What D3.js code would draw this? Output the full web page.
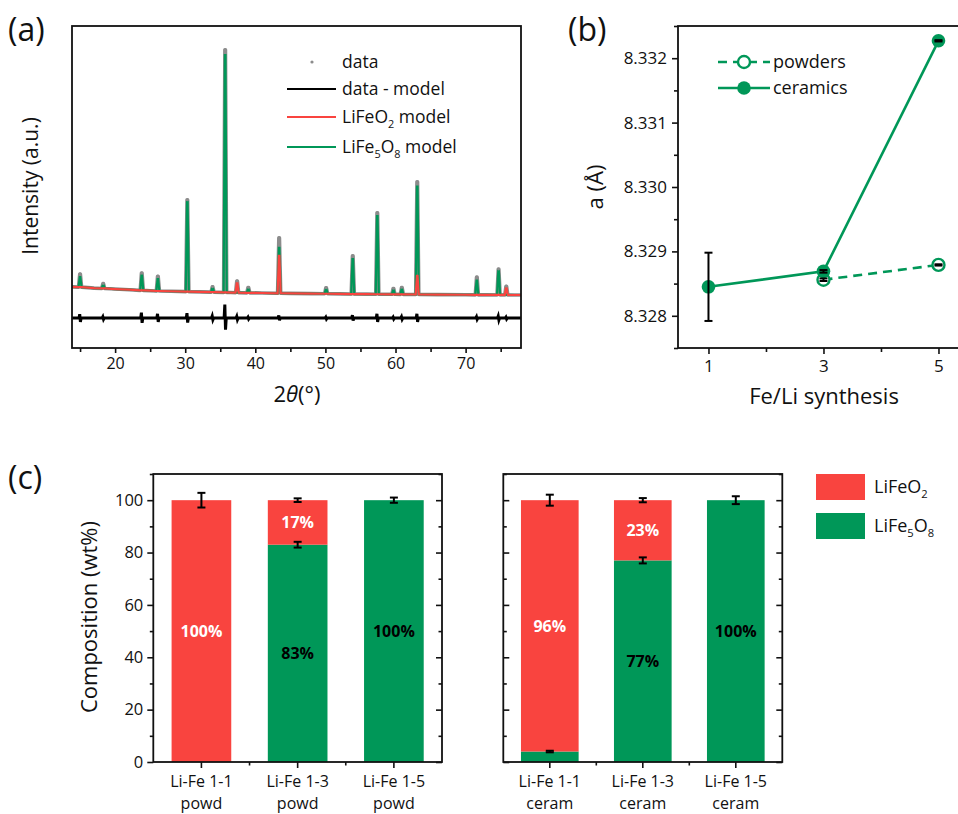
<!DOCTYPE html>
<html><head><meta charset="utf-8">
<script src="https://cdn.jsdelivr.net/npm/d3@7"></script>
<style>
body{margin:0;background:#fff;}
svg text{font-family:"Open Sans",sans-serif;fill:#111;}
</style></head><body>
<svg id="chart" width="958" height="814"></svg>
<script>
// ================= DATA =================
// (a) XRD pattern, 2theta in degrees, intensity in a.u.
const xrdMajorTicks = [20, 30, 40, 50, 60, 70];
const xrdMinorTicks = [15, 25, 35, 45, 55, 65, 75];
const peakPos   = [15.0, 18.3, 23.8, 26.1, 30.3, 33.9, 35.7, 37.4, 39.0, 43.4, 50.1, 53.9, 57.4, 59.7, 60.9, 63.1, 71.6, 74.7, 75.8];
const peakBase  = [1890, 1850, 1790, 1770, 1750, 1735, 1725, 1718, 1712, 1700, 1685, 1676, 1670, 1667, 1664, 1661, 1651, 1648, 1647];
const greenTop  = [2205, 1960, 2250, 2140, 4540, 1860, 9100, 1718, 1830, 3110, 1830, 2760, 4100, 1800, 1830, 5010, 2090, 2400, 1647];
const redTop    = [1890, 1850, 1790, 1770, 1750, 1735, 1725, 2020, 1712, 2860, 1685, 1676, 1670, 1667, 1664, 2240, 1651, 1648, 1870];
const dataTop   = [2300, 2000, 2330, 2230, 4600, 1900, 9260, 2080, 1880, 3420, 1870, 2860, 4200, 1850, 1880, 5160, 2200, 2450, 1920];
const residUp   = [120, 40, 170, 130, 150, 60, 420, 50, 30, 80, 30, 90, 130, 30, 40, 130, 40, 60, 30];
const residDown = [-120, -40, -150, -120, -140, -50, -360, -50, -30, -70, -30, -80, -120, -30, -40, -120, -40, -60, -30];
const baseX = [13.8, 17, 20, 22, 25, 28, 32, 36.5, 41, 45, 48, 52, 56, 66, 70, 73, 77, 78.2];
const baseI = [1900, 1860, 1830, 1810, 1780, 1762, 1742, 1722, 1708, 1697, 1690, 1681, 1673, 1657, 1653, 1649, 1646, 1645];
const residOffset = 930;
const xrdLegend = ["data", "data - model", "LiFeO2 model", "LiFe5O8 model"];

// (b) lattice parameter
const synthTicks = [1, 3, 5];
const synthMinor = [2, 4];
const latticeTicks = [8.328, 8.329, 8.330, 8.331, 8.332];
const latticeMinor = [8.3275, 8.3285, 8.3295, 8.3305, 8.3315, 8.3325];
const ceramX = [1, 3, 5];
const ceramA = [8.32845, 8.32869, 8.33227];
const ceramErr = [0.00053, 0.00002, 0.00001];
const powdX = [3, 5];
const powdA = [8.32856, 8.32879];
const powdErr = [0.00002, 0.00001];

// (c) composition
const compCats = ["Li-Fe 1-1", "Li-Fe 1-3", "Li-Fe 1-5"];
const compTicks = [0, 20, 40, 60, 80, 100];
const compMinor = [10, 30, 50, 70, 90, 110];
const powdLiFe5O8 = [0, 83, 100];
const powdLiFeO2  = [100, 17, 0];
const powdTopErr  = [2.8, 0.7, 1.0];
const powdMidErr  = [0, 1.1, 0];
const ceramLiFe5O8 = [4, 77, 100];
const ceramLiFeO2  = [96, 23, 0];
const ceramTopErr  = [2.1, 0.8, 1.5];
const ceramMidErr  = [0.3, 1.15, 0];

// ================= STYLE =================
const RED = "#F9443F", GREEN = "#009758", GRAY = "#8c8c8c";
const svg = d3.select("#chart");

function addSubText(g, x, y, parts, size, anchor) {
  const t = g.append("text").attr("x", x).attr("y", y).attr("font-size", size)
    .attr("text-anchor", anchor || "start");
  let shifted = false;
  parts.forEach(p => {
    const ts = t.append("tspan").text(p.t);
    if (p.sub) {
      ts.attr("font-size", size * 0.62).attr("dy", size * 0.28);
      shifted = true;
    } else if (shifted) {
      ts.attr("dy", -size * 0.28);
      shifted = false;
    }
  });
  return t;
}
function formulaParts(s) {
  const out = [];
  s.replace(/(\d+)|([^\d]+)/g, (m, d, o) => { out.push(d ? {t: d, sub: true} : {t: o}); });
  return out;
}
function styleAxis(g, fs) {
  g.select(".domain").remove();
  g.selectAll(".tick line").attr("stroke", "#111").attr("stroke-width", 1.6);
  g.selectAll(".tick text").attr("font-size", fs).attr("fill", "#111");
}

// ================= PANEL (a) =================
const aL = 72, aR = 521, aT = 26, aB = 348;
const xA = d3.scaleLinear().domain([13.85, 77.9]).range([aL, aR]);
const yA = d3.scaleLinear().domain([0, 10000]).range([aB, aT]);

function buildCurve(tops) {
  const pts = baseX.map((x, i) => [x, baseI[i]]);
  peakPos.forEach((p, i) => {
    pts.push([p - 0.22, peakBase[i]], [p - 0.04, tops[i]], [p + 0.04, tops[i]], [p + 0.22, peakBase[i]]);
  });
  return pts.sort((a, b) => a[0] - b[0]);
}
function buildResid() {
  const pts = baseX.map(x => [x, residOffset]);
  peakPos.forEach((p, i) => {
    pts.push([p - 0.15, residOffset], [p - 0.05, residOffset + residUp[i]],
             [p + 0.05, residOffset + residDown[i]], [p + 0.15, residOffset]);
  });
  return pts.sort((a, b) => a[0] - b[0]);
}
const lineA = d3.line().x(d => xA(d[0])).y(d => yA(d[1]));
svg.append("clipPath").attr("id", "clipA").append("rect")
  .attr("x", aL).attr("y", aT).attr("width", aR - aL).attr("height", aB - aT);
const gA = svg.append("g").attr("clip-path", "url(#clipA)");
gA.append("path").attr("d", lineA(buildCurve(dataTop))).attr("fill", "none")
  .attr("stroke", GRAY).attr("stroke-width", 3.6).attr("stroke-linejoin", "round");
gA.append("path").attr("d", lineA(buildResid())).attr("fill", "none")
  .attr("stroke", "#000").attr("stroke-width", 3);
gA.append("path").attr("d", lineA(buildCurve(greenTop))).attr("fill", "none")
  .attr("stroke", GREEN).attr("stroke-width", 2.2);
gA.append("path").attr("d", lineA(buildCurve(redTop))).attr("fill", "none")
  .attr("stroke", RED).attr("stroke-width", 2.2);
peakPos.forEach((p, i) => {
  gA.append("circle").attr("cx", xA(p)).attr("cy", yA(dataTop[i])).attr("r", 1.4).attr("fill", GRAY);
});

svg.append("rect").attr("x", aL).attr("y", aT).attr("width", aR - aL).attr("height", aB - aT)
  .attr("fill", "none").attr("stroke", "#111").attr("stroke-width", 1.8);
const axA = svg.append("g").attr("transform", `translate(0,${aB})`)
  .call(d3.axisBottom(xA).tickValues(xrdMajorTicks).tickSize(5).tickPadding(5).tickSizeOuter(0));
styleAxis(axA, 16);
const axAm = svg.append("g").attr("transform", `translate(0,${aB})`)
  .call(d3.axisBottom(xA).tickValues(xrdMinorTicks).tickSize(4).tickFormat("").tickSizeOuter(0));
styleAxis(axAm, 16);

const tA = svg.append("text").attr("x", 297).attr("y", 402).attr("font-size", 22).attr("text-anchor", "middle");
tA.append("tspan").text("2");
tA.append("tspan").attr("font-style", "italic").text("\u03B8");
tA.append("tspan").text("(\u00B0)");
svg.append("text").attr("transform", "translate(38,186) rotate(-90)").attr("text-anchor", "middle")
  .attr("font-size", 21).text("Intensity (a.u.)");
svg.append("text").attr("x", 8).attr("y", 41).attr("font-size", 32).text("(a)");

// legend (a)
const legA = svg.append("g");
const legAy = [62, 89, 117, 147];
legA.append("circle").attr("cx", 312).attr("cy", legAy[0]).attr("r", 1.6).attr("fill", GRAY);
[["#000", 1], [RED, 2], [GREEN, 3]].forEach(([c, i]) => {
  legA.append("line").attr("x1", 287).attr("x2", 336).attr("y1", legAy[i]).attr("y2", legAy[i])
    .attr("stroke", c).attr("stroke-width", 2.2);
});
xrdLegend.forEach((s, i) => addSubText(legA, 342, legAy[i] + 6, formulaParts(s), 17.5));

// ================= PANEL (b) =================
const bL = 678, bT = 26, bB = 348;
const xB = d3.scaleLinear().domain([0.47, 5.5]).range([bL, bL + 5.03 * 57.5]);
const yB = d3.scaleLinear().domain([8.3275, 8.3325]).range([bB, bT]);
const bR = xB(5.5);
svg.append("rect").attr("x", bL).attr("y", bT).attr("width", bR - bL).attr("height", bB - bT)
  .attr("fill", "none").attr("stroke", "#111").attr("stroke-width", 1.8);
const axBy = svg.append("g").attr("transform", `translate(${bL},0)`)
  .call(d3.axisLeft(yB).tickValues(latticeTicks).tickFormat(d3.format(".3f")).tickSize(6).tickPadding(5).tickSizeOuter(0));
styleAxis(axBy, 17);
const axBym = svg.append("g").attr("transform", `translate(${bL},0)`)
  .call(d3.axisLeft(yB).tickValues(latticeMinor).tickFormat("").tickSize(4).tickSizeOuter(0));
styleAxis(axBym, 17);
const axBx = svg.append("g").attr("transform", `translate(0,${bB})`)
  .call(d3.axisBottom(xB).tickValues(synthTicks).tickFormat(d3.format("d")).tickSize(6).tickPadding(6).tickSizeOuter(0));
styleAxis(axBx, 17);
const axBxm = svg.append("g").attr("transform", `translate(0,${bB})`)
  .call(d3.axisBottom(xB).tickValues(synthMinor).tickFormat("").tickSize(4).tickSizeOuter(0));
styleAxis(axBxm, 17);

const lineB = d3.line().x(d => xB(d[0])).y(d => yB(d[1]));
const ceramPts = ceramX.map((x, i) => [x, ceramA[i]]);
const powdPts = powdX.map((x, i) => [x, powdA[i]]);
svg.append("path").attr("d", lineB(ceramPts)).attr("fill", "none").attr("stroke", GREEN).attr("stroke-width", 2.6);
svg.append("path").attr("d", lineB(powdPts)).attr("fill", "none").attr("stroke", GREEN)
  .attr("stroke-width", 2.6).attr("stroke-dasharray", "9,6");
powdPts.forEach(d => svg.append("circle").attr("cx", xB(d[0])).attr("cy", yB(d[1])).attr("r", 6)
  .attr("fill", "#fff").attr("stroke", GREEN).attr("stroke-width", 2.4));
ceramPts.forEach(d => svg.append("circle").attr("cx", xB(d[0])).attr("cy", yB(d[1])).attr("r", 6.8)
  .attr("fill", GREEN));
function errBar(g, cx, y1, y2, cap) {
  g.append("line").attr("x1", cx).attr("x2", cx).attr("y1", y1).attr("y2", y2).attr("stroke", "#000").attr("stroke-width", 2);
  [y1, y2].forEach(y => g.append("line").attr("x1", cx - cap).attr("x2", cx + cap).attr("y1", y).attr("y2", y)
    .attr("stroke", "#000").attr("stroke-width", 2));
}
ceramPts.forEach((d, i) => errBar(svg, xB(d[0]), yB(d[1] - ceramErr[i]), yB(d[1] + ceramErr[i]), 4));
powdPts.forEach((d, i) => errBar(svg, xB(d[0]), yB(d[1] - powdErr[i]), yB(d[1] + powdErr[i]), 4));

svg.append("text").attr("x", 824).attr("y", 404).attr("font-size", 22).attr("text-anchor", "middle").text("Fe/Li synthesis");
svg.append("text").attr("transform", "translate(603,187) rotate(-90)").attr("text-anchor", "middle")
  .attr("font-size", 22).text("a (\u00C5)");
svg.append("text").attr("x", 568).attr("y", 41).attr("font-size", 32).text("(b)");

// legend (b)
svg.append("line").attr("x1", 718).attr("x2", 770).attr("y1", 62).attr("y2", 62)
  .attr("stroke", GREEN).attr("stroke-width", 2.6).attr("stroke-dasharray", "9,6");
svg.append("circle").attr("cx", 744).attr("cy", 62).attr("r", 6).attr("fill", "#fff").attr("stroke", GREEN).attr("stroke-width", 2.4);
svg.append("line").attr("x1", 718).attr("x2", 770).attr("y1", 88).attr("y2", 88)
  .attr("stroke", GREEN).attr("stroke-width", 2.6);
svg.append("circle").attr("cx", 744).attr("cy", 88).attr("r", 6.8).attr("fill", GREEN);
svg.append("text").attr("x", 773).attr("y", 68).attr("font-size", 18).text("powders");
svg.append("text").attr("x", 773).attr("y", 94).attr("font-size", 18).text("ceramics");

// ================= PANEL (c) =================
const cT = 474, cB = 762;
const yC = d3.scaleLinear().domain([0, 110]).range([cB, cT]);

function compChart(x0, x1, sample, green, red, topErr, midErr, leftLabels) {
  const g = svg.append("g");
  const xC = d3.scaleBand().domain(compCats).range([x0, x1]).paddingInner(0.38).paddingOuter(0.19);
  compCats.forEach((c, i) => {
    const bx = xC(c), bw = xC.bandwidth(), cx = bx + bw / 2;
    if (green[i] > 0) g.append("rect").attr("x", bx).attr("width", bw)
      .attr("y", yC(green[i])).attr("height", yC(0) - yC(green[i])).attr("fill", GREEN);
    if (red[i] > 0) g.append("rect").attr("x", bx).attr("width", bw)
      .attr("y", yC(green[i] + red[i])).attr("height", yC(green[i]) - yC(green[i] + red[i])).attr("fill", RED);
    if (red[i] >= 10) g.append("text").attr("x", cx).attr("y", yC(green[i] + red[i] / 2) + 6)
      .attr("text-anchor", "middle").attr("font-size", 16).attr("font-weight", "bold").style("fill", "#fff").text(red[i] + "%");
    if (green[i] >= 10) g.append("text").attr("x", cx).attr("y", yC(green[i] / 2) + 6)
      .attr("text-anchor", "middle").attr("font-size", 16).attr("font-weight", "bold").style("fill", "#000").text(green[i] + "%");
    const tot = green[i] + red[i];
    errBar(g, cx, yC(tot - topErr[i]), yC(tot + topErr[i]), 4);
    if (midErr[i] > 0) errBar(g, cx, yC(green[i] - midErr[i]), yC(green[i] + midErr[i]), 4);
  });
  g.append("rect").attr("x", x0).attr("y", cT).attr("width", x1 - x0).attr("height", cB - cT)
    .attr("fill", "none").attr("stroke", "#111").attr("stroke-width", 1.8);
  const la = g.append("g").attr("transform", `translate(${x0},0)`)
    .call(d3.axisLeft(yC).tickValues(compTicks).tickSize(leftLabels ? 6 : -6).tickPadding(4)
      .tickFormat(leftLabels ? d3.format("d") : "").tickSizeOuter(0));
  styleAxis(la, 16.5);
  const lam = g.append("g").attr("transform", `translate(${x0},0)`)
    .call(d3.axisLeft(yC).tickValues(compMinor).tickSize(leftLabels ? 3.5 : -3.5).tickFormat("").tickSizeOuter(0));
  styleAxis(lam, 16);
  const ra = g.append("g").attr("transform", `translate(${x1},0)`)
    .call(d3.axisRight(yC).tickValues(compTicks).tickSize(-6).tickFormat("").tickSizeOuter(0));
  styleAxis(ra, 16);
  const ram = g.append("g").attr("transform", `translate(${x1},0)`)
    .call(d3.axisRight(yC).tickValues(compMinor).tickSize(-3.5).tickFormat("").tickSizeOuter(0));
  styleAxis(ram, 16);
  const ba = g.append("g").attr("transform", `translate(0,${cB})`)
    .call(d3.axisBottom(xC).tickSize(6).tickPadding(8).tickSizeOuter(0));
  styleAxis(ba, 16);
  ba.selectAll(".tick text").each(function (d) {
    const t = d3.select(this);
    t.text(null);
    t.append("tspan").attr("x", 0).attr("dy", "0.71em").text(d);
    t.append("tspan").attr("x", 0).attr("dy", "1.33em").text(sample);
  });
  const bounds = [1, 2].map(k => x0 + k * (x1 - x0) / 3);
  bounds.forEach(bx => g.append("line").attr("x1", bx).attr("x2", bx).attr("y1", cB).attr("y2", cB + 3.5)
    .attr("stroke", "#111").attr("stroke-width", 1.6));
}
compChart(153.3, 442, "powd", powdLiFe5O8, powdLiFeO2, powdTopErr, powdMidErr, true);
compChart(503.3, 782.3, "ceram", ceramLiFe5O8, ceramLiFeO2, ceramTopErr, ceramMidErr, false);

svg.append("text").attr("transform", "translate(97,617) rotate(-90)").attr("text-anchor", "middle")
  .attr("font-size", 22).text("Composition (wt%)");
svg.append("text").attr("x", 8).attr("y", 489).attr("font-size", 32).text("(c)");

// legend (c)
svg.append("rect").attr("x", 816).attr("y", 474).attr("width", 49).attr("height", 26).attr("fill", RED);
svg.append("rect").attr("x", 816).attr("y", 513).attr("width", 49).attr("height", 26).attr("fill", GREEN);
addSubText(svg, 874, 493, formulaParts("LiFeO2"), 18);
addSubText(svg, 874, 532, formulaParts("LiFe5O8"), 18);
</script>
</body></html>
